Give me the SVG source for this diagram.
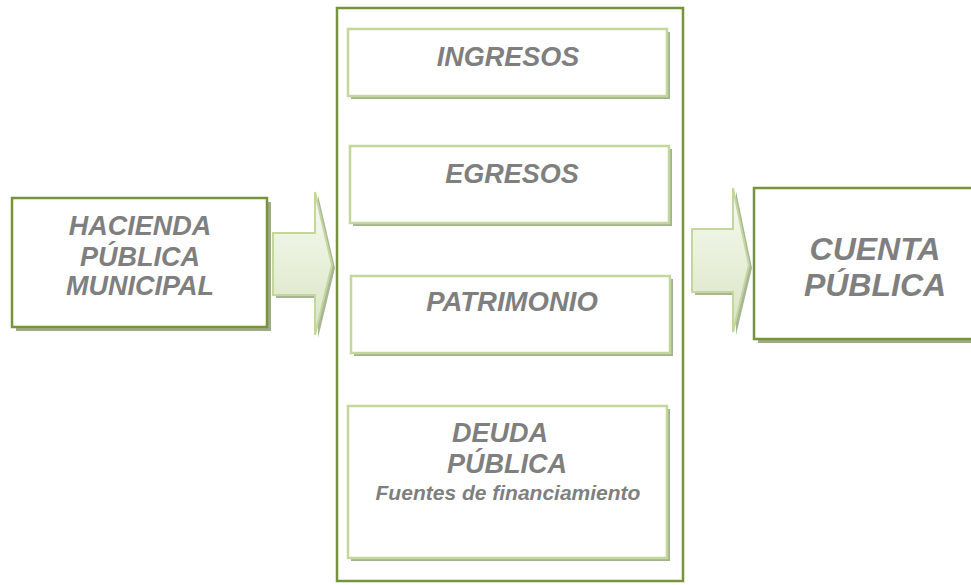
<svg xmlns="http://www.w3.org/2000/svg" width="971" height="585" viewBox="0 0 971 585">
<style>
.t{font-family:"Liberation Sans",Arial,sans-serif;font-weight:bold;font-style:italic;fill:#7f7f7f;text-anchor:middle}
.outer{fill:#ffffff;stroke:#77933c;stroke-width:2.5}
.outersh{fill:#9dab88}
.inner{fill:#ffffff;stroke:#c3d69b;stroke-width:2.5}
.innersh{fill:#a3b28f}
.arrow{fill:url(#ag);stroke:#c3d69b;stroke-width:2}
.arrowsh{fill:#a8b596}
</style>
<defs>
<linearGradient id="ag" x1="0" y1="0" x2="0" y2="1">
<stop offset="0" stop-color="#f7faf2"/>
<stop offset="1" stop-color="#d9e5c3"/>
</linearGradient>
</defs>
<g id="container">
<rect x="337" y="8" width="346" height="573" fill="#ffffff" stroke="#77933c" stroke-width="2.5"/>
</g>
<g id="hacienda">
<rect class="outersh" x="16" y="202" width="255" height="129"/>
<rect class="outer" x="12" y="198" width="255" height="129"/>
<text class="t" font-size="27" x="140" y="235">HACIENDA</text>
<text class="t" font-size="27" x="140" y="266">PÚBLICA</text>
<text class="t" font-size="27" x="140" y="295">MUNICIPAL</text>
</g>
<g id="ingresos">
<rect class="innersh" x="351" y="32" width="319" height="67"/>
<rect class="inner" x="348" y="29" width="319" height="67"/>
<text class="t" font-size="27" x="508" y="66">INGRESOS</text>
</g>
<g id="egresos">
<rect class="innersh" x="353" y="149" width="319" height="77"/>
<rect class="inner" x="350" y="146" width="319" height="77"/>
<text class="t" font-size="27" x="512" y="183">EGRESOS</text>
</g>
<g id="patrimonio">
<rect class="innersh" x="354" y="279" width="319" height="77"/>
<rect class="inner" x="351" y="276" width="319" height="77"/>
<text class="t" font-size="27.5" x="512" y="311">PATRIMONIO</text>
</g>
<g id="deuda">
<rect class="innersh" x="351" y="409" width="319" height="152"/>
<rect class="inner" x="348" y="406" width="319" height="152"/>
<text class="t" font-size="27" x="500" y="442">DEUDA</text>
<text class="t" font-size="27" x="507" y="473">PÚBLICA</text>
<text class="t" font-size="21" x="508" y="500">Fuentes de financiamiento</text>
</g>
<g id="cuenta">
<rect class="outersh" x="758" y="192" width="220" height="151"/>
<rect class="outer" x="754" y="188" width="220" height="151"/>
<text class="t" font-size="32" x="875" y="260">CUENTA</text>
<text class="t" font-size="32" x="875" y="296">PÚBLICA</text>
</g>
<g id="connectors">
<path class="arrowsh" d="M276 236 H318 V195 L335 268 L318 338 V298 H276 Z"/>
<path class="arrow" d="M273 233 H315 V192 L332 265 L315 335 V295 H273 Z"/>
<path class="arrowsh" d="M695 232 H736 V191 L752 268 L736 335 V295 H695 Z"/>
<path class="arrow" d="M692 229 H733 V188 L749 265 L733 332 V292 H692 Z"/>
</g>
</svg>
